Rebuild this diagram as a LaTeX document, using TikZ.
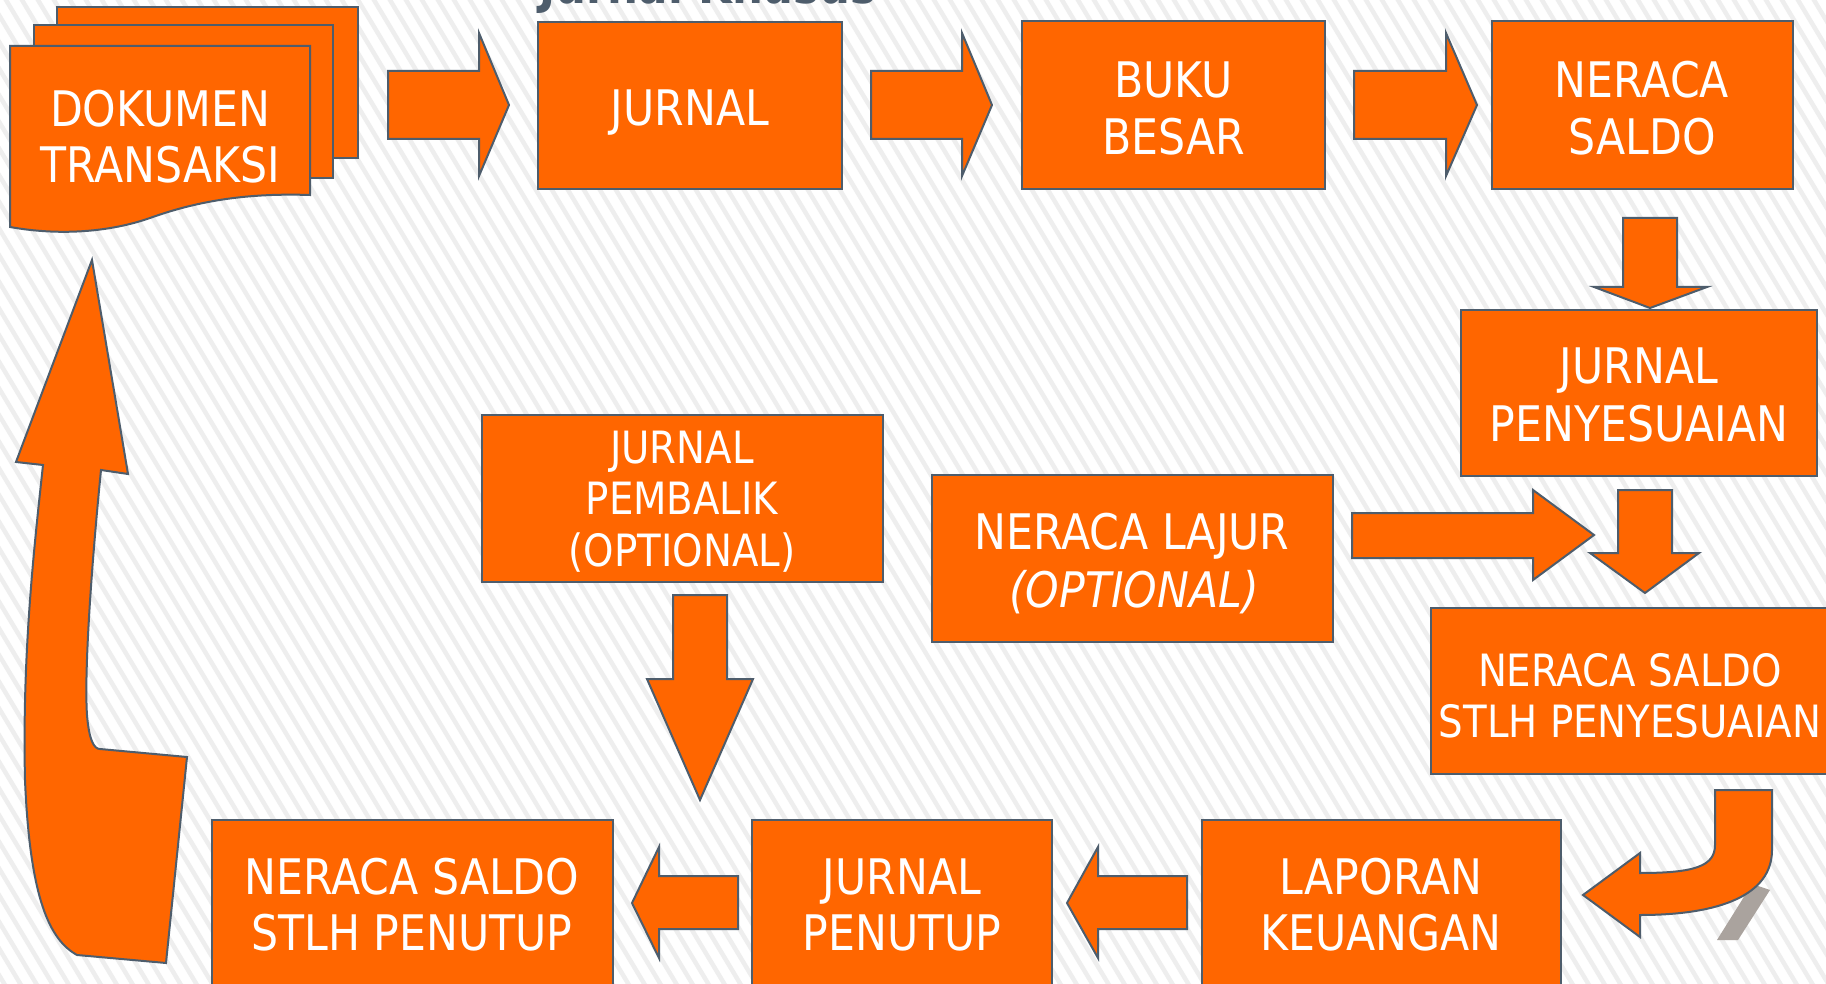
\documentclass[tikz,border=0pt]{standalone}
\usepackage{fontspec}
\setmainfont{DejaVu Sans}[FakeStretch=0.87]
\definecolor{org}{RGB}{255,102,0}
\definecolor{edge}{RGB}{78,93,108}
\definecolor{stripecol}{RGB}{238,238,238}
\definecolor{shadowgray}{RGB}{170,163,158}
\tikzset{
  box/.style={draw=edge, fill=org, line width=2pt, rectangle, inner sep=0pt},
  txt/.style={text=white, anchor=base, inner sep=0pt, font=\fontsize{49}{57}\selectfont},
  stxt/.style={txt, font=\fontsize{44.5}{51}\selectfont},
  barrow/.style={draw=edge, fill=org, line width=2pt, line join=miter},
}
\begin{document}
\begin{tikzpicture}[x=1pt,y=-1pt]
\useasboundingbox (0,0) rectangle (1826,984);
\clip (0,0) rectangle (1826,984);
\fill[white] (0,0) rectangle (1826,984);
\foreach \i in {-42,...,116} {\draw[line width=4.5pt, stripecol] (\i*16,-10) -- ++(600,1000);}

% title (cut off at the top edge, as in the reference)
\node[anchor=base, inner sep=0pt, text=edge, font=\fontsize{50}{50}\selectfont\bfseries] (title) at (708,4) {Jurnal Khusus};

% document stack
\draw[barrow] (57,7) rectangle (358,158);
\draw[barrow] (34,25) rectangle (333,178);
\draw[barrow] (10,46) -- (310,46) -- (310,195) .. controls (250,193) and (200,200) .. (150,218) .. controls (110,232) and (60,236) .. (10,227) -- cycle;
\node[txt] (t-dok1) at (160,127) {DOKUMEN};
\node[txt] (t-dok2) at (160,183) {TRANSAKSI};

% boxes
\node[box, minimum width=304pt, minimum height=167pt] (jurnal) at (690,105.5) {};
\node[box, minimum width=303pt, minimum height=168pt] (buku) at (1173.5,105) {};
\node[box, minimum width=301pt, minimum height=168pt] (nsaldo) at (1642.5,105) {};
\node[box, minimum width=356pt, minimum height=166pt] (jpeny) at (1639,393) {};
\node[box, minimum width=401pt, minimum height=167pt] (jpemb) at (682.5,498.5) {};
\node[box, minimum width=401pt, minimum height=167pt] (nlajur) at (1132.5,558.5) {};
\node[box, minimum width=399pt, minimum height=166pt] (nsp) at (1630.5,691) {};
\node[box, minimum width=359pt, minimum height=175pt] (lap) at (1381.5,907.5) {};
\node[box, minimum width=300pt, minimum height=175pt] (jpen) at (902,907.5) {};
\node[box, minimum width=401pt, minimum height=175pt] (nspen) at (412.5,907.5) {};

% texts
\node[txt] (t-jur) at (690,126) {JURNAL};
\node[txt] (t-buku1) at (1173.5,98) {BUKU};
\node[txt] (t-buku2) at (1173.5,155) {BESAR};
\node[txt] (t-ns1) at (1642,98) {NERACA};
\node[txt] (t-ns2) at (1642,155) {SALDO};
\node[txt] (t-jp1) at (1639,383) {JURNAL};
\node[txt] (t-jp2) at (1639,441) {PENYESUAIAN};
\node[stxt] (t-jb1) at (682,463) {JURNAL};
\node[stxt] (t-jb2) at (682,514) {PEMBALIK};
\node[stxt] (t-jb3) at (682,566) {(OPTIONAL)};
\node[txt] (t-nl1) at (1132,549) {NERACA LAJUR};
\node[txt, font=\fontsize{49}{57}\selectfont\itshape] (t-nl2) at (1134,607) {(OPTIONAL)};
\node[stxt] (t-nsp1) at (1630,686) {NERACA SALDO};
\node[stxt] (t-nsp2) at (1630,737) {STLH PENYESUAIAN};
\node[txt] (t-lap1) at (1381,894) {LAPORAN};
\node[txt] (t-lap2) at (1381,950) {KEUANGAN};
\node[txt] (t-jpn1) at (902,894) {JURNAL};
\node[txt] (t-jpn2) at (902,950) {PENUTUP};
\node[txt] (t-nsn1) at (412,894) {NERACA SALDO};
\node[txt] (t-nsn2) at (412,950) {STLH PENUTUP};

% straight block arrows
\draw[barrow] (388,71) -- (479,71) -- (479,33) -- (509,105) -- (479,176) -- (479,139) -- (388,139) -- cycle;
\draw[barrow] (871,71) -- (962,71) -- (962,33) -- (992,105) -- (962,176) -- (962,139) -- (871,139) -- cycle;
\draw[barrow] (1354,71) -- (1446,71) -- (1446,33) -- (1477,105) -- (1446,176) -- (1446,139) -- (1354,139) -- cycle;
\draw[barrow] (1623,218) -- (1677,218) -- (1677,287) -- (1707,287) -- (1650,308) -- (1594,287) -- (1623,287) -- cycle;
\draw[barrow] (1618,490) -- (1672,490) -- (1672,553) -- (1699,553) -- (1645,593) -- (1590,553) -- (1618,553) -- cycle;
\draw[barrow] (1352,513) -- (1533,513) -- (1533,490) -- (1594,535) -- (1533,580) -- (1533,558) -- (1352,558) -- cycle;
\draw[barrow] (673,595) -- (727,595) -- (727,679) -- (753,679) -- (700,800) -- (647,679) -- (673,679) -- cycle;
\draw[barrow] (1187,876) -- (1098,876) -- (1098,847) -- (1067,903) -- (1098,958) -- (1098,929) -- (1187,929) -- cycle;
\draw[barrow] (738,876) -- (659,876) -- (659,847) -- (632,903) -- (659,958) -- (659,929) -- (738,929) -- cycle;

% U-turn arrow with grey slash behind
\fill[shadowgray] (1717,940) -- (1738,940) -- (1770,890) -- (1752,884) -- cycle;
\draw[barrow] (1715,790) -- (1772,790) -- (1772,850) .. controls (1772,895) and (1720,915) .. (1640,915) -- (1640,937) -- (1583,895) -- (1640,853) -- (1640,873) .. controls (1695,873) and (1715,866) .. (1715,845) -- cycle;

% big curved arrow on the left
\draw[barrow] (92,260) -- (128,474) -- (101,470) .. controls (92,560) and (84,670) .. (87,715) .. controls (89,740) and (94,749) .. (100,749) -- (187,757) -- (166,963) -- (77,955) .. controls (50,940) and (30,900) .. (25,780) .. controls (22,650) and (35,540) .. (43,465) -- (16,462) -- cycle;
\end{tikzpicture}
\end{document}
